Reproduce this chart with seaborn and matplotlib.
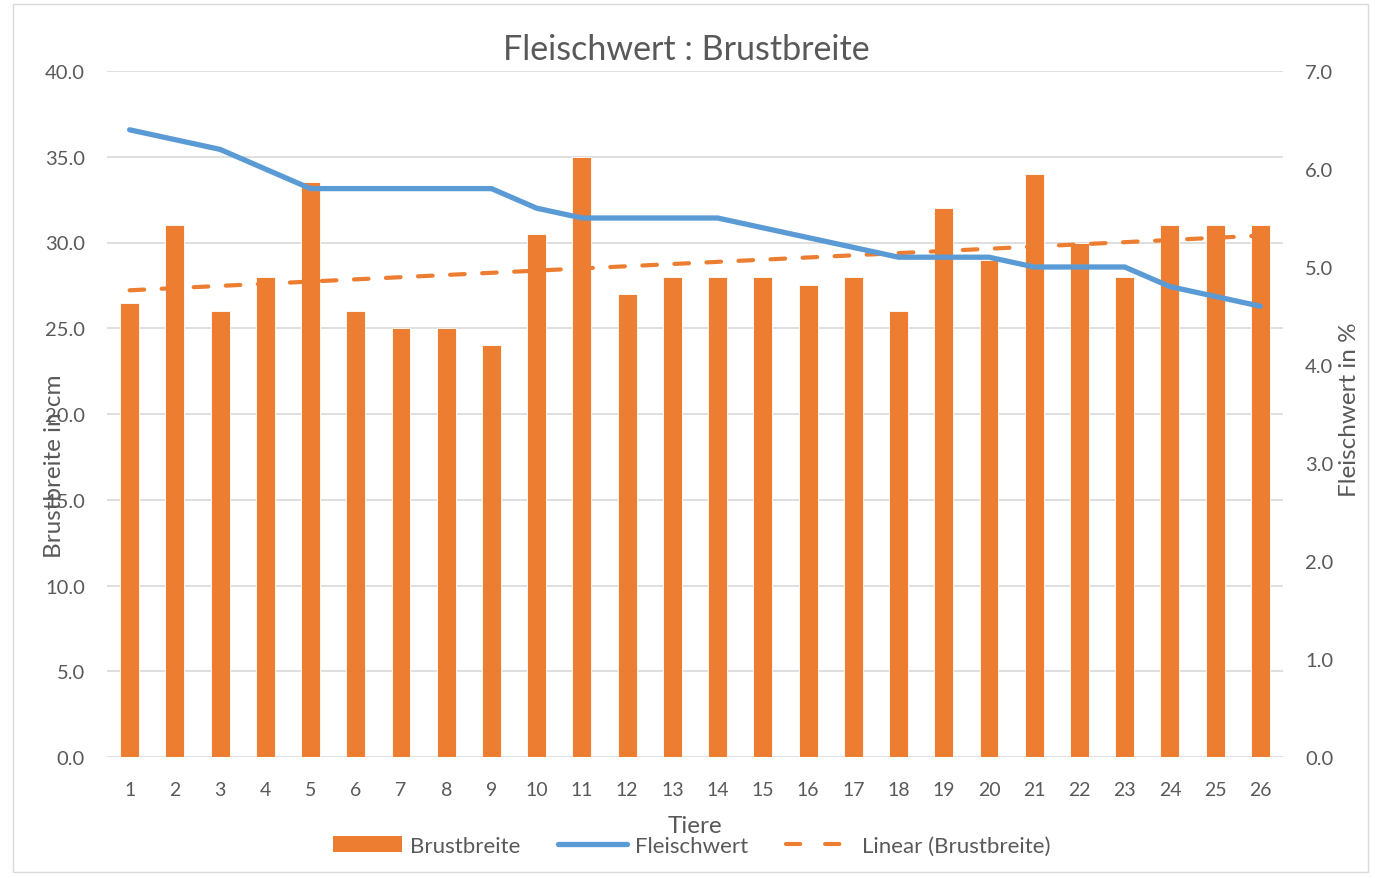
import matplotlib
matplotlib.use("Agg")
import matplotlib.pyplot as plt
import seaborn as sns
import numpy as np
import pandas as pd
from matplotlib.patches import Patch, Rectangle
from matplotlib.lines import Line2D
from matplotlib.ticker import FormatStrFormatter, MultipleLocator

tiere = list(range(1, 27))
brustbreite = [26.5, 31.0, 26.0, 28.0, 33.5, 26.0, 25.0, 25.0, 24.0, 30.5,
               35.0, 27.0, 28.0, 28.0, 28.0, 27.5, 28.0, 26.0, 32.0, 29.0,
               34.0, 30.0, 28.0, 31.0, 31.0, 31.0]
fleischwert = [6.4, 6.3, 6.2, 6.0, 5.8, 5.8, 5.8, 5.8, 5.8, 5.6,
               5.5, 5.5, 5.5, 5.5, 5.4, 5.3, 5.2, 5.1, 5.1, 5.1,
               5.0, 5.0, 5.0, 4.8, 4.7, 4.6]

ORANGE = "#ED7D31"
BLUE = "#5B9BD5"
GRID = "#D9D9D9"
TXT = "#595959"

sns.set_theme(style="white")
plt.rcParams['font.family'] = ['Lato', 'DejaVu Sans']

W, H = 1375, 879
fig = plt.figure(figsize=(W / 100, H / 100), dpi=100)
fig.patches.append(Rectangle((13 / W, 1 - 873 / H), (1368 - 13) / W, (873 - 5) / H,
                             transform=fig.transFigure, fill=False,
                             edgecolor=GRID, linewidth=1))

ax = fig.add_axes([107 / W, 1 - 758 / H, (1283 - 107) / W, (758 - 72) / H])
df = pd.DataFrame({"Tier": [str(t) for t in tiere], "Brustbreite": brustbreite})
sns.barplot(data=df, x="Tier", y="Brustbreite", color=ORANGE, saturation=1,
            width=0.42, edgecolor="white", linewidth=0.6, ax=ax, zorder=2)

pos = np.arange(len(tiere))
coef = np.polyfit(tiere, brustbreite, 1)
trend = np.polyval(coef, tiere)
ax.plot(pos, trend, color=ORANGE, lw=3, dashes=(3.5, 4.2),
        dash_capstyle="round", zorder=3)

ax.set_xlim(-0.5, len(tiere) - 0.5)
ax.set_ylim(0, 40)
ax.yaxis.set_major_locator(MultipleLocator(5))
ax.yaxis.set_major_formatter(FormatStrFormatter("%.1f"))
ax.grid(axis="y", color=GRID, linewidth=1.2, zorder=0)
ax.set_axisbelow(True)
for s in ax.spines.values():
    s.set_visible(False)
ax.tick_params(axis="y", length=0, labelsize=14.5, labelcolor=TXT, pad=16)
ax.tick_params(axis="x", length=0, labelsize=14, labelcolor=TXT, pad=17)
ax.set_xlabel("")
ax.set_ylabel("")

ax2 = ax.twinx()
sns.lineplot(x=pos, y=fleischwert, color=BLUE, lw=3.8, ax=ax2, zorder=4,
             solid_capstyle="round", solid_joinstyle="round")
ax2.set_ylim(0, 7)
ax2.yaxis.set_major_locator(MultipleLocator(1))
ax2.yaxis.set_major_formatter(FormatStrFormatter("%.1f"))
for s in ax2.spines.values():
    s.set_visible(False)
ax2.tick_params(axis="y", length=0, labelsize=14.5, labelcolor=TXT, pad=16)
ax2.set_ylabel("")
ax2.set_xlim(-0.5, len(tiere) - 0.5)

fig.text(686 / W, 1 - 50 / H, "Fleischwert : Brustbreite", ha="center", va="center",
         fontsize=24.5, color=TXT)
fig.text(55 / W, 1 - 466 / H, "Brustbreite in cm", rotation=90, ha="center",
         va="center", fontsize=17.5, color=TXT)
fig.text(1349 / W, 1 - 410 / H, "Fleischwert in %", rotation=90, ha="center",
         va="center", fontsize=17.5, color=TXT)
fig.text(695 / W, 1 - 827 / H, "Tiere", ha="center", va="center",
         fontsize=17.5, color=TXT)

handles = [Patch(facecolor=ORANGE, edgecolor="none"),
           Line2D([], [], color=BLUE, lw=3.8, solid_capstyle="round"),
           Line2D([], [], color=ORANGE, lw=3, dashes=(3.4, 6.0), dash_capstyle="round")]
labels = ["Brustbreite", "Fleischwert", "Linear (Brustbreite)"]
leg = fig.legend(handles, labels, loc="center", bbox_to_anchor=(692 / W, 1 - 847 / H),
                 ncol=3, frameon=False, fontsize=16, handlelength=3.1,
                 handleheight=0.7, columnspacing=1.7, handletextpad=0.35)
for t in leg.get_texts():
    t.set_color(TXT)

fig.savefig("out.png", dpi=100)
